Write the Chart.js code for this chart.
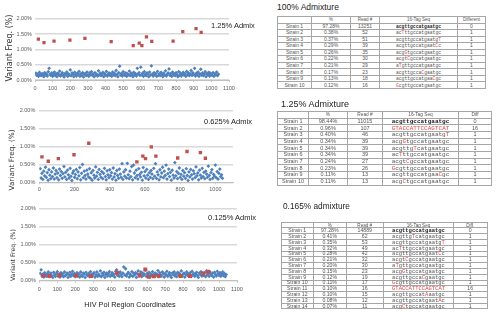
<!DOCTYPE html>
<html><head><meta charset="utf-8">
<script src="https://cdn.jsdelivr.net/npm/chart.js@4"></script>
<style>
body{margin:0;width:500px;height:324px;background:#fff;position:relative;overflow:hidden;font-family:'Liberation Sans',Arial,sans-serif;color:#222}
.box{position:absolute}
.lbl{position:absolute;white-space:nowrap;line-height:1}
.narrow{font-family:'Liberation Sans Narrow','Liberation Sans',Arial,sans-serif}
.ytitle{position:absolute;white-space:nowrap;font-family:'DejaVu Sans',sans-serif;color:#333;transform:translate(-50%,-50%) rotate(-90deg);line-height:1}
table{position:absolute;border-collapse:collapse;table-layout:fixed;color:#555}
td{border:1px solid #a6a6a6;padding:0;text-align:center;white-space:nowrap;overflow:visible;line-height:3px}
td.seq{font-family:'Liberation Mono','DejaVu Sans Mono',monospace}
</style></head>
<body>
<div class="box" style="left:0;top:0"><canvas id="c1" width="250" height="100"></canvas></div>
<div class="box" style="left:0;top:95px"><canvas id="c2" width="250" height="100"></canvas></div>
<div class="box" style="left:0;top:190px"><canvas id="c3" width="250" height="134"></canvas></div>

<div class="ytitle" style="left:10px;top:48px;font-size:8px">Variant Freq. (%)</div>
<div class="ytitle" style="left:12px;top:160px;font-size:7.3px">Variant Freq. (%)</div>
<div class="ytitle" style="left:13px;top:255px;font-size:6.2px">Variant Freq. (%)</div>
<div class="lbl narrow" style="left:211px;top:22px;font-size:7.5px">1.25% Admix</div>
<div class="lbl narrow" style="left:204px;top:117.7px;font-size:7.5px">0.625% Admix</div>
<div class="lbl narrow" style="left:208px;top:214.3px;font-size:7.5px">0.125% Admix</div>
<div class="lbl narrow" style="left:130px;top:305px;font-size:7.3px;transform:translate(-50%,-50%)">HIV Pol Region Coordinates</div>

<div class="lbl" style="left:277px;top:3.3px;font-size:8.5px">100% Admixture</div>
<div class="lbl" style="left:281px;top:100px;font-size:9px">1.25% Admixture</div>
<div class="lbl" style="left:283px;top:202.4px;font-size:8.3px">0.165% admixture</div>
<div id="tables"></div>

<script>
// ---- scatter data (variant frequency, %) ----
const coords = [5,10,15,20,25,30,35,40,45,50,55,60,65,70,75,80,85,90,95,100,
105,110,115,120,125,130,135,140,145,150,155,160,165,170,175,180,185,190,195,200,
205,210,215,220,225,230,235,240,245,250,255,260,265,270,275,280,285,290,295,300,
305,310,315,320,325,330,335,340,345,350,355,360,365,370,375,380,385,390,395,400,
405,410,415,420,425,430,435,440,445,450,455,460,465,470,475,480,485,490,495,500,
505,510,515,520,525,530,535,540,545,550,555,560,565,570,575,580,585,590,595,600,
605,610,615,620,625,630,635,640,645,650,655,660,665,670,675,680,685,690,695,700,
705,710,715,720,725,730,735,740,745,750,755,760,765,770,775,780,785,790,795,800,
805,810,815,820,825,830,835,840,845,850,855,860,865,870,875,880,885,890,895,900,
905,910,915,920,925,930,935,940,945,950,955,960,965,970,975,980,985,990,995,1000,
1005,1010,1015,1020,1025,1030,1035,1040];

const blue1 = [0.22,0.15,0.19,0.12,0.25,0.17,0.14,0.21,0.18,0.11,0.24,0.16,0.20,0.13,0.27,0.38,0.19,0.15,0.23,0.12,
0.18,0.26,0.14,0.20,0.11,0.22,0.17,0.29,0.13,0.19,0.24,0.15,0.10,0.21,0.18,0.26,0.12,0.20,0.16,0.33,
0.14,0.23,0.19,0.11,0.25,0.17,0.13,0.22,0.18,0.28,0.12,0.20,0.15,0.24,0.10,0.19,0.21,0.14,0.26,0.17,
0.12,0.23,0.18,0.27,0.15,0.20,0.11,0.24,0.16,0.19,0.13,0.30,0.17,0.22,0.14,0.18,0.25,0.11,0.21,0.16,
0.28,0.13,0.19,0.23,0.15,0.20,0.12,0.26,0.17,0.22,0.14,0.31,0.18,0.11,0.24,0.45,0.16,0.21,0.13,0.27,
0.19,0.15,0.23,0.12,0.20,0.17,0.29,0.14,0.22,0.18,0.11,0.25,0.16,0.21,0.13,0.38,0.19,0.24,0.15,0.42,
0.17,0.22,0.12,0.27,0.18,0.14,0.23,0.20,0.11,0.26,0.16,0.46,0.19,0.13,0.24,0.17,0.21,0.12,0.28,0.15,
0.20,0.14,0.25,0.18,0.11,0.22,0.16,0.30,0.13,0.19,0.23,0.36,0.15,0.21,0.12,0.26,0.17,0.20,0.14,0.24,
0.18,0.11,0.27,0.15,0.22,0.13,0.19,0.25,0.16,0.21,0.12,0.28,0.17,0.23,0.14,0.20,0.31,0.15,0.24,0.18,
0.38,0.13,0.22,0.17,0.26,0.12,0.20,0.35,0.16,0.23,0.14,0.19,0.27,0.11,0.21,0.17,0.25,0.13,0.22,0.18,
0.15,0.24,0.12,0.20,0.17,0.26,0.14,0.19];

const blue2 = [0.38,0.12,0.25,0.08,0.31,0.18,0.42,0.14,0.27,0.06,0.35,0.20,0.10,0.29,0.16,0.40,0.09,0.23,0.33,0.13,
0.26,0.07,0.37,0.19,0.30,0.11,0.24,0.44,0.15,0.28,0.08,0.34,0.21,0.12,0.39,0.17,0.05,0.26,0.32,0.14,
0.22,0.36,0.10,0.29,0.18,0.41,0.07,0.25,0.50,0.13,0.31,0.19,0.09,0.34,0.23,0.15,0.38,0.11,0.27,0.06,
0.33,0.20,0.12,0.43,0.17,0.28,0.08,0.36,0.22,0.14,0.30,0.10,0.25,0.39,0.16,0.07,0.32,0.21,0.13,0.35,
0.18,0.27,0.09,0.40,0.15,0.24,0.06,0.33,0.19,0.11,0.37,0.23,0.14,0.52,0.08,0.29,0.17,0.35,0.12,0.53,
0.21,0.10,0.31,0.16,0.44,0.07,0.48,0.26,0.13,0.34,0.19,0.09,0.38,0.22,0.15,0.28,0.06,0.41,0.18,0.30,
0.12,0.36,0.20,0.08,0.27,0.14,0.33,0.23,0.10,0.39,0.17,0.52,0.11,0.29,0.21,0.07,0.35,0.15,0.26,0.42,
0.13,0.31,0.19,0.48,0.09,0.24,0.37,0.16,0.28,0.06,0.34,0.20,0.12,0.55,0.18,0.30,0.10,0.25,0.40,0.14,
0.22,0.08,0.33,0.17,0.27,0.11,0.38,0.19,0.05,0.29,0.15,0.36,0.21,0.09,0.32,0.24,0.13,0.43,0.18,0.26,
0.07,0.34,0.20,0.12,0.39,0.16,0.28,0.10,0.31,0.23,0.14,0.45,0.19,0.08,0.27,0.35,0.11,0.22,0.17,0.48,
0.13,0.30,0.09,0.25,0.37,0.16,0.21,0.11];

const blue3 = [0.20,0.30,0.13,0.18,0.10,0.22,0.15,0.12,0.19,0.24,0.11,0.17,0.21,0.14,0.09,0.23,0.16,0.12,0.20,0.25,
0.13,0.18,0.10,0.22,0.15,0.19,0.11,0.24,0.14,0.17,0.21,0.09,0.16,0.23,0.12,0.18,0.26,0.14,0.20,0.11,
0.17,0.22,0.13,0.19,0.10,0.24,0.15,0.12,0.21,0.18,0.09,0.23,0.16,0.14,0.20,0.11,0.25,0.17,0.13,0.19,
0.22,0.10,0.16,0.24,0.12,0.18,0.14,0.27,0.11,0.20,0.15,0.23,0.09,0.17,0.21,0.13,0.19,0.25,0.12,0.16,
0.22,0.14,0.18,0.10,0.26,0.30,0.15,0.20,0.12,0.24,0.17,0.11,0.21,0.38,0.16,0.33,0.13,0.19,0.23,0.10,
0.18,0.14,0.25,0.12,0.20,0.16,0.22,0.09,0.19,0.27,0.13,0.17,0.24,0.11,0.21,0.15,0.18,0.29,0.12,0.20,
0.16,0.23,0.10,0.19,0.14,0.25,0.17,0.12,0.21,0.15,0.18,0.28,0.11,0.22,0.16,0.13,0.24,0.19,0.10,0.20,
0.15,0.26,0.12,0.18,0.22,0.14,0.09,0.21,0.17,0.24,0.13,0.19,0.11,0.23,0.16,0.20,0.14,0.27,0.12,0.18,
0.21,0.10,0.17,0.24,0.15,0.19,0.13,0.22,0.11,0.26,0.16,0.20,0.12,0.18,0.23,0.14,0.09,0.21,0.17,0.25,
0.13,0.19,0.15,0.22,0.11,0.27,0.16,0.20,0.12,0.24,0.18,0.14,0.21,0.10,0.23,0.17,0.13,0.26,0.19,0.15,
0.22,0.12,0.18,0.24,0.14,0.20,0.11,0.17];

const red1X = [19,51,108,198,283,432,557,591,606,632,662,783,838,913,942];
const red1Y = [1.33,1.22,1.27,1.30,1.36,1.25,1.12,1.20,1.12,1.41,1.26,1.27,1.58,1.68,1.55];
const red2X = [15,51,108,197,281,554,588,603,636,662,786,839,915,943];
const red2Y = [0.71,0.59,0.66,0.77,1.09,0.57,0.73,0.66,0.99,0.73,0.68,0.86,0.83,0.67];
const red3X = [22,56,112,205,287,432,559,590,609,637,665,786,838,912,939];
const red3Y = [0.14,0.13,0.15,0.14,0.13,0.22,0.15,0.31,0.11,0.12,0.13,0.13,0.13,0.20,0.25];

// ---- table data ----
const t1Head = ['', '%', 'Read #', '16-Tag Seq', 'Different'];
const t1Pct = ['97.28%','0.38%','0.37%','0.29%','0.26%','0.22%','0.21%','0.17%','0.13%','0.12%'];
const t1Reads = ['13251','52','51','39','35','30','29','23','18','16'];
const t1Seq = ['acgttgccatgaatgc','acTttgccatgaatgc','acgttgccatgaatgT','acgttgccatgaatCc','acgGtgccatgaatgc','acgtCgccatgaatgc','aTgttgccatgaatgc','acgttgccaCgaatgc','acgttgccatgaaCgc','Gcgttgccatgaatgc'];
const t1Diff = ['0','1','1','1','1','1','1','1','1','1'];

const t2Head = ['', '%', 'Read #', '16-Tag Seq', 'Diff'];
const t2Pct = ['98.44%','0.96%','0.40%','0.34%','0.34%','0.34%','0.24%','0.23%','0.11%','0.11%'];
const t2Reads = ['11015','107','46','39','39','39','27','26','13','13'];
const t2Seq = ['acgttgccatgaatgc','GTACCATTCCAGTCAT','acgttgccatgaatgT','acgGtgccatgaatgc','acgttgTcatgaatgc','acTttgccatgaatgc','acgtCgccatgaatgc','Gcgttgccatgaatgc','acgttgccatgaaCgc','acgCtgccatgaatgc'];
const t2Diff = ['0','16','1','1','1','1','1','1','1','1'];

const t3Head = ['', '%', 'Read #', '16-Tag Seq', 'Diff.'];
const t3Pct = ['97.28%','0.41%','0.35%','0.32%','0.28%','0.21%','0.20%','0.15%','0.12%','0.11%','0.10%','0.10%','0.08%','0.07%'];
const t3Reads = ['14889','62','53','49','42','32','30','23','19','17','16','15','12','11'];
const t3Seq = ['acgttgccatgaatgc','acgttgTcatgaatgc','acgttgccatgaatgT','acTttgccatgaatgc','acgttgccatgaatCc','acgtCgccatgaatgc','aTgttgccatgaatgc','acgGtgccatgaatgc','acgttgccaCgaatgc','Gcgttgccatgaatgc','GTACCATTCCAGTCAT','acgttgccatAaatgc','acgttgccatgaatAc','acgCtgccatgaatgc'];
const t3Diff = ['0','1','1','1','1','1','1','1','1','1','16','1','1','1'];

const BLUE = '#4F81BD', RED = '#C0504D';
const TICKFONT = "'Liberation Sans Narrow','Liberation Sans',Arial,sans-serif";

function mk(id, blue, rx, ry, L){
  return new Chart(document.getElementById(id), {
    type: 'scatter',
    data: { datasets: [
      { data: rx.map((x,i)=>({x, y: ry[i]})), pointStyle:'rect', radius:L.rr, hoverRadius:L.rr,
        backgroundColor:RED, borderColor:RED, borderWidth:0 },
      { data: coords.map((x,i)=>({x, y: blue[i]})).filter(p=>p.y!==undefined), pointStyle:'rectRot',
        radius:L.br, hoverRadius:L.br, backgroundColor:BLUE, borderColor:BLUE, borderWidth:0 }
    ]},
    options: {
      responsive:false, animation:false, devicePixelRatio:1, events:[],
      layout:{ padding:{ top:L.pt, right:L.pr, left:0, bottom:0 } },
      plugins:{ legend:{display:false}, tooltip:{enabled:false} },
      scales:{
        x:{ type:'linear', min:0, max:1100,
          ticks:{ stepSize:L.xs, padding:L.xp, color:'#595959', font:{family:TICKFONT, size:5.5},
                  includeBounds:L.xs === 100, maxRotation:0, autoSkip:false,
                  callback:v => String(v) },
          grid:{ display:true, drawOnChartArea:false, drawTicks:true, tickLength:2, color:'#bfbfbf' },
          border:{ display:true, color:'#bfbfbf' },
          afterFit: s => { s.height = L.xh; } },
        y:{ min:0, max:2,
          ticks:{ stepSize:0.5, padding:L.yp, color:'#595959', font:{family:TICKFONT, size:5.5},
                  callback:v => v.toFixed(2) + '%' },
          grid:{ color:'#d9d9d9', lineWidth:1.5, drawTicks:false },
          border:{ display:false },
          afterFit: s => { s.width = L.yw; } }
      }
    }
  });
}

mk('c1', blue1, red1X, red1Y, {pt:18.7, pr:21, xh:20, yw:35, xs:100, xp:3, yp:3, rr:2.3, br:1.9});
mk('c2', blue2, red2X, red2Y, {pt:15.7, pr:17, xh:12.7, yw:39.3, xs:200, xp:1.5, yp:4, rr:2.4, br:1.9});
mk('c3', blue3, red3X, red3Y, {pt:18.3, pr:13, xh:43.3, yw:39.3, xs:100, xp:3, yp:3.3, rr:2.8, br:1.9});

function fmtSeq(s){
  return s.split('').map(c => (c >= 'A' && c <= 'Z') ? '<span style="color:#e04848">'+c+'</span>' : c).join('');
}
function buildTable(o){
  const w = o.widths.reduce((a,b)=>a+b,0);
  let h = '<table style="left:'+o.left+'px;top:'+o.top+'px;width:'+w+'px;height:'+o.height+'px;font-size:'+o.font+'px">';
  h += '<colgroup>' + o.widths.map(x=>'<col style="width:'+x+'px">').join('') + '</colgroup>';
  h += '<tr style="font-size:'+o.headFont+'px">' + o.head.map(t=>'<td>'+t+'</td>').join('') + '</tr>';
  o.pct.forEach((p,i) => {
    h += '<tr><td>Strain '+(i+1)+'</td><td>'+p+'</td><td>'+o.reads[i]+'</td>'
      + '<td class="seq" style="font-size:'+o.seqFont+'px;'+(i===0?'font-weight:bold;color:#222':'')+'">'+fmtSeq(o.seq[i])+'</td>'
      + '<td>'+o.diff[i]+'</td></tr>';
  });
  return h + '</table>';
}
document.getElementById('tables').innerHTML =
  buildTable({left:277, top:16, height:73, widths:[34,39,29,78,28], font:5, headFont:4.5, seqFont:4.7,
              head:t1Head, pct:t1Pct, reads:t1Reads, seq:t1Seq, diff:t1Diff}) +
  buildTable({left:277, top:111, height:74.5, widths:[31,39,35,76,33], font:5.5, headFont:4.8, seqFont:6,
              head:t2Head, pct:t2Pct, reads:t2Reads, seq:t2Seq, diff:t2Diff}) +
  buildTable({left:280.5, top:221.7, height:87.8, widths:[32.5,32.5,37.5,70,33.5], font:5.2, headFont:4.6, seqFont:5.5,
              head:t3Head, pct:t3Pct, reads:t3Reads, seq:t3Seq, diff:t3Diff});
</script>
</body></html>
